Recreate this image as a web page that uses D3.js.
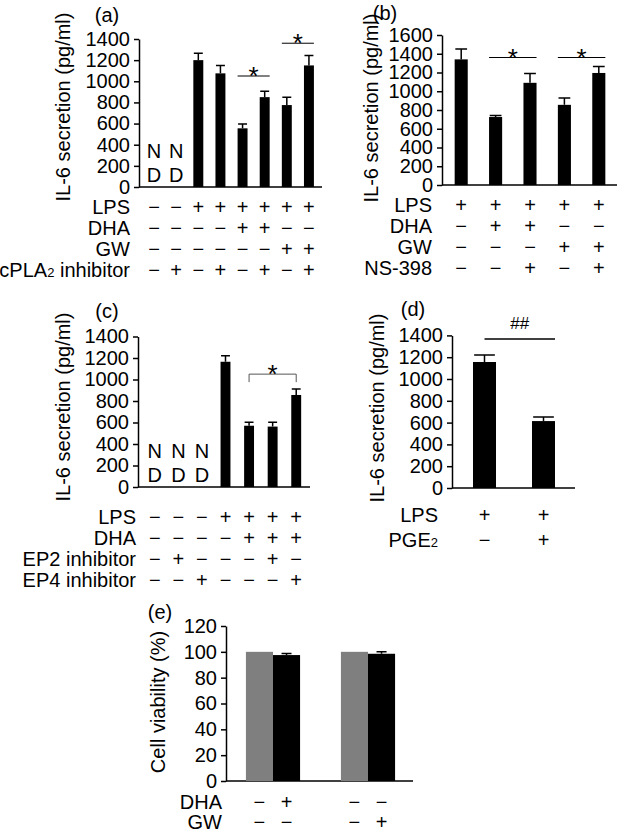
<!DOCTYPE html>
<html>
<head>
<meta charset="utf-8">
<script src="https://cdn.jsdelivr.net/npm/d3@7"></script>
<style>
  body { margin: 0; background: #fff; }
  svg { font-family: "Liberation Sans", Arial, sans-serif; }
</style>
</head>
<body>
<svg id="fig" width="617" height="833"></svg>
<script>
// ---- data ----
// (a)
const aMeans = [null, null, 1200, 1075, 555, 850, 775, 1150];
const aErrors = [0, 0, 65, 75, 40, 55, 75, 95];
const aRows = ['LPS', 'DHA', 'GW', 'cPLA_2 inhibitor'];
const aSigns = [
  ['−', '−', '+', '+', '+', '+', '+', '+'],
  ['−', '−', '−', '−', '+', '+', '−', '−'],
  ['−', '−', '−', '−', '−', '−', '+', '+'],
  ['−', '+', '−', '+', '−', '+', '−', '+']
];
const aSig = [{from: 4, to: 5, at: 1050, label: '*'}, {from: 6, to: 7, at: 1360, label: '*'}];

// (b)
const bMeans = [1340, 725, 1090, 855, 1195];
const bErrors = [110, 17, 100, 72, 70];
const bRows = ['LPS', 'DHA', 'GW', 'NS-398'];
const bSigns = [
  ['+', '+', '+', '+', '+'],
  ['−', '+', '+', '−', '−'],
  ['−', '−', '−', '+', '+'],
  ['−', '−', '+', '−', '+']
];
const bSig = [{from: 1, to: 2, at: 1360, label: '*'}, {from: 3, to: 4, at: 1360, label: '*'}];

// (c)
const cMeans = [null, null, null, 1165, 570, 562, 856];
const cErrors = [0, 0, 0, 55, 32, 40, 56];
const cRows = ['LPS', 'DHA', 'EP2 inhibitor', 'EP4 inhibitor'];
const cSigns = [
  ['−', '−', '−', '+', '+', '+', '+'],
  ['−', '−', '−', '−', '+', '+', '+'],
  ['−', '+', '−', '−', '−', '+', '−'],
  ['−', '−', '+', '−', '−', '−', '+']
];
const cBracket = {from: 4, to: 6, at: 1050, label: '*'};

// (d)
const dMeans = [1156, 614];
const dErrors = [65, 38];
const dRows = ['LPS', 'PGE_2'];
const dSigns = [
  ['+', '+'],
  ['−', '+']
];
const dSig = {from: 0, to: 1, at: 1367, label: '##'};

// (e)
const eGroups = ['DHA', 'GW'];
const eControl = [100, 100];
const eTreated = [97.5, 98.5];
const eTreatedErr = [1.2, 1.5];
const eRows = ['DHA', 'GW'];
const eSigns = [
  ['−', '+', '−', '−'],
  ['−', '−', '−', '+']
];

const NS = 20;
const svg = d3.select('#fig');

function label(sel, txt) {
  // "_2" marks a small subscript-like digit
  const parts = txt.split('_');
  sel.text(parts[0]);
  if (parts.length > 1) {
    sel.append('tspan').attr('font-size', 13).text(parts[1][0]);
    sel.append('tspan').text(parts[1].slice(1));
  }
}

function yAxis(g, y, ax, max, step) {
  const a = g.append('g')
    .attr('transform', `translate(${ax},0)`)
    .call(d3.axisLeft(y).tickValues(d3.range(0, max + 1, step)).tickFormat(d3.format('d'))
      .tickSize(5).tickPadding(4).tickSizeOuter(0));
  a.selectAll('text').attr('font-size', NS).attr('font-family', null).attr('fill', '#000');
  a.selectAll('line, path').attr('stroke', '#000').attr('stroke-width', 1.5);
}

function table(g, rows, signs, xs, labelX, y0, gap) {
  rows.forEach((r, j) => {
    const t = g.append('text').attr('x', labelX).attr('y', y0 + j * gap)
      .attr('dy', '0.35em').attr('text-anchor', 'end').attr('font-size', NS);
    label(t, r);
    g.selectAll(null).data(signs[j]).enter().append('text')
      .attr('x', (d, i) => xs(i))
      .attr('y', y0 + j * gap)
      .attr('dy', '0.35em')
      .attr('text-anchor', 'middle')
      .attr('font-size', NS)
      .text(d => d);
  });
}

function titles(g, title, tx, ty, ylab, lx, ly) {
  g.append('text').attr('x', tx).attr('y', ty).attr('dy', '0.35em')
    .attr('text-anchor', 'middle').attr('font-size', NS).text(title);
  g.append('text').attr('transform', `translate(${lx},${ly}) rotate(-90)`)
    .attr('dy', '0.35em').attr('text-anchor', 'middle').attr('font-size', NS).text(ylab);
}

function barPanel(o) {
  const g = svg.append('g');
  const x = d3.scaleBand().domain(d3.range(o.means.length)).range(o.xr)
    .paddingInner(o.pad).paddingOuter(o.pad / 2);
  const y = d3.scaleLinear().domain([0, o.max]).range(o.yr);
  const bw = x.bandwidth();

  yAxis(g, y, o.ax, o.max, o.step);
  g.append('line').attr('x1', o.ax).attr('x2', o.xr[1] + 2)
    .attr('y1', y(0)).attr('y2', y(0)).attr('stroke', '#000').attr('stroke-width', 1.5);

  const data = o.means.map((m, i) => ({m, e: o.errors[i], i})).filter(d => d.m !== null);

  // error bars (upper only)
  g.selectAll(null).data(data).enter().append('path')
    .attr('d', d => `M${x(d.i) + bw / 2},${y(d.m)}V${y(d.m + d.e)}M${x(d.i) + bw * 0.05},${y(d.m + d.e)}H${x(d.i) + bw * 0.95}`)
    .attr('stroke', '#000').attr('stroke-width', 1.5).attr('fill', 'none');

  g.selectAll(null).data(data).enter().append('rect')
    .attr('x', d => x(d.i)).attr('width', bw)
    .attr('y', d => y(d.m)).attr('height', d => y(0) - y(d.m))
    .attr('fill', '#000');

  // not detected
  o.means.forEach((m, i) => {
    if (m !== null) return;
    g.append('text').attr('x', x(i) + bw / 2).attr('y', y(0) - 36).attr('dy', '0.35em')
      .attr('text-anchor', 'middle').attr('font-size', NS).text('N');
    g.append('text').attr('x', x(i) + bw / 2).attr('y', y(0) - 12).attr('dy', '0.35em')
      .attr('text-anchor', 'middle').attr('font-size', NS).text('D');
  });

  (o.sig || []).forEach(s => {
    const x1 = x(s.from), x2 = x(s.to) + bw;
    g.append('line').attr('x1', x1).attr('x2', x2).attr('y1', y(s.at)).attr('y2', y(s.at))
      .attr('stroke', '#000').attr('stroke-width', 1);
    g.append('text').attr('x', (x1 + x2) / 2).attr('y', y(s.at) + 9)
      .attr('text-anchor', 'middle').attr('font-size', 26).text(s.label);
  });

  if (o.bracket) {
    const s = o.bracket;
    const x1 = x(s.from) + bw / 2, x2 = x(s.to) + bw / 2, yy = y(s.at);
    g.append('path').attr('d', `M${x1},${yy + 8}V${yy}H${x2}V${yy + 8}`)
      .attr('stroke', '#555').attr('stroke-width', 1).attr('fill', 'none');
    g.append('text').attr('x', (x1 + x2) / 2).attr('y', yy + 9)
      .attr('text-anchor', 'middle').attr('font-size', 26).text(s.label);
  }

  if (o.hash) {
    const s = o.hash;
    const x1 = x(s.from) + bw / 2, x2 = x(s.to) + bw, yy = y(s.at);
    g.append('line').attr('x1', x1).attr('x2', x2).attr('y1', yy).attr('y2', yy)
      .attr('stroke', '#000').attr('stroke-width', 1.5);
    g.append('text').attr('x', (x1 + x2) / 2).attr('y', yy - 10)
      .attr('text-anchor', 'middle').attr('font-size', 17).text(s.label);
  }

  table(g, o.rows, o.signs, i => x(i) + bw / 2, o.labelX, o.rowY, o.rowGap);
  titles(g, o.title, o.tx, o.ty, 'IL-6 secretion (pg/ml)', o.lx, o.ly);
}

barPanel({means: aMeans, errors: aErrors, rows: aRows, signs: aSigns, sig: aSig,
  xr: [143, 320], pad: 0.55, ax: 139, max: 1400, step: 200, yr: [187, 39],
  labelX: 130, rowY: 207, rowGap: 21, title: '(a)', tx: 107, ty: 15, lx: 63, ly: 107});

barPanel({means: bMeans, errors: bErrors, rows: bRows, signs: bSigns, sig: bSig,
  xr: [444, 616], pad: 0.62, ax: 442, max: 1600, step: 200, yr: [185, 35],
  labelX: 432, rowY: 205, rowGap: 21, title: '(b)', tx: 385, ty: 13, lx: 371, ly: 108});

barPanel({means: cMeans, errors: cErrors, rows: cRows, signs: cSigns, bracket: cBracket,
  xr: [143, 308], pad: 0.58, ax: 138, max: 1400, step: 200, yr: [487, 336.5],
  labelX: 136, rowY: 517, rowGap: 21, title: '(c)', tx: 107, ty: 311, lx: 63, ly: 407});

barPanel({means: dMeans, errors: dErrors, rows: dRows, signs: dSigns, hash: dSig,
  xr: [455, 573], pad: 0.61, ax: 452, max: 1400, step: 200, yr: [488, 335.4],
  labelX: 438, rowY: 515, rowGap: 25, title: '(d)', tx: 413, ty: 309, lx: 377, ly: 408});

// (e) grouped bars
(function () {
  const g = svg.append('g');
  const x0 = d3.scaleBand().domain(d3.range(eGroups.length)).range([225.5, 415.5])
    .paddingInner(0.43).paddingOuter(0.215);
  const x1 = d3.scaleBand().domain([0, 1]).range([0, x0.bandwidth()]);
  const y = d3.scaleLinear().domain([0, 120]).range([781, 626]);
  const bw = x1.bandwidth();

  yAxis(g, y, 226, 120, 20);
  g.append('line').attr('x1', 226).attr('x2', 413).attr('y1', y(0)).attr('y2', y(0))
    .attr('stroke', '#000').attr('stroke-width', 1.5);

  g.selectAll(null).data(eControl).enter().append('rect')
    .attr('x', (d, i) => x0(i) + x1(0)).attr('width', bw)
    .attr('y', d => y(d)).attr('height', d => y(0) - y(d)).attr('fill', '#7f7f7f');

  g.selectAll(null).data(eTreated).enter().append('path')
    .attr('d', (d, i) => {
      const cx = x0(i) + x1(1) + bw / 2;
      return `M${cx},${y(d)}V${y(d + eTreatedErr[i])}M${cx - 5},${y(d + eTreatedErr[i])}H${cx + 5}`;
    })
    .attr('stroke', '#000').attr('stroke-width', 1.5);

  g.selectAll(null).data(eTreated).enter().append('rect')
    .attr('x', (d, i) => x0(i) + x1(1)).attr('width', bw)
    .attr('y', d => y(d)).attr('height', d => y(0) - y(d)).attr('fill', '#000');

  table(g, eRows, eSigns, k => x0(Math.floor(k / 2)) + x1(k % 2) + bw / 2, 222, 802, 20);
  titles(g, '(e)', 160, 612, 'Cell viability (%)', 158, 702);
})();
</script>
</body>
</html>
